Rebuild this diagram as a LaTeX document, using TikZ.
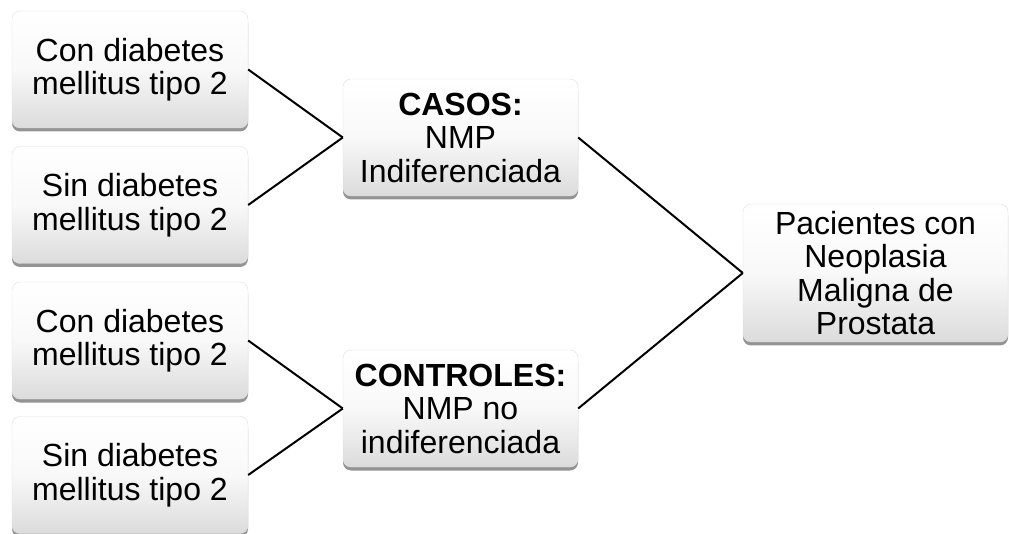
\documentclass[tikz,border=0pt]{standalone}
\usepackage{fontspec}
\setmainfont{Liberation Sans}
\usetikzlibrary{shadows}
\begin{document}
\begin{tikzpicture}[x=1pt,y=-1pt,
  boxstyle/.style={rounded corners=8pt, draw=gray!25, line width=0.4pt,
    top color=white, bottom color=gray!28, middle color=white!95!gray,
    drop shadow={shadow xshift=0pt, shadow yshift=-3.5pt, opacity=0.6, fill=gray!60!black},
    align=center, inner sep=0pt, font=\fontsize{32pt}{33.5pt}\selectfont},
  leftbox/.style={boxstyle, minimum width=236pt, minimum height=117pt},
  midbox/.style={boxstyle, minimum width=235pt, minimum height=117pt},
  rightbox/.style={boxstyle, minimum width=265pt, minimum height=138pt},
  link/.style={line width=2pt, black}]
\useasboundingbox (0,0) rectangle (1009,534);
\node[leftbox] (l1) at (130,69.5) {Con diabetes\\mellitus tipo 2};
\node[leftbox] (l2) at (130,205) {Sin diabetes\\mellitus tipo 2};
\node[leftbox] (l3) at (130,340.5) {Con diabetes\\mellitus tipo 2};
\node[leftbox] (l4) at (130,475) {Sin diabetes\\mellitus tipo 2};
\node[midbox] (casos) at (460.5,137.5) {\textbf{CASOS:}\\NMP\\Indiferenciada};
\node[midbox] (ctrl) at (460.5,408.5) {\textbf{CONTROLES:}\\NMP no\\indiferenciada};
\node[rightbox] (pac) at (875.5,273) {Pacientes con\\Neoplasia\\Maligna de\\Prostata};
\draw[link] (l1.east) -- (casos.west);
\draw[link] (l2.east) -- (casos.west);
\draw[link] (l3.east) -- (ctrl.west);
\draw[link] (l4.east) -- (ctrl.west);
\draw[link] (casos.east) -- (pac.west);
\draw[link] (ctrl.east) -- (pac.west);
\end{tikzpicture}
\end{document}
